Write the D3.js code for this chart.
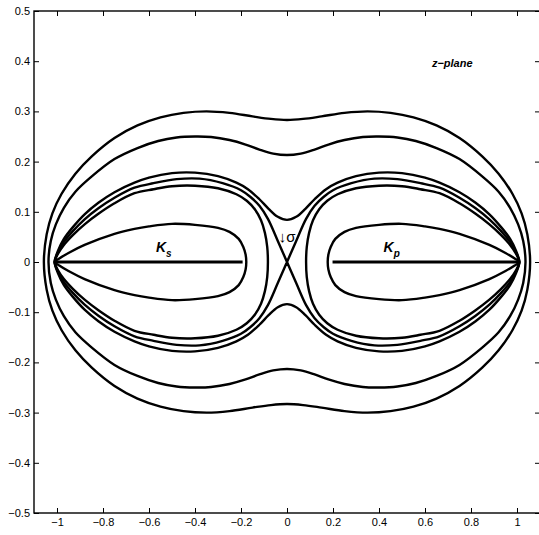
<!DOCTYPE html>
<html>
<head>
<meta charset="utf-8">
<script src="https://cdn.jsdelivr.net/npm/d3@7"></script>
<style>
  body { margin: 0; background: #fff; }
  text { font-family: "Liberation Sans", Arial, sans-serif; fill: #000; }
</style>
</head>
<body>
<svg id="zplane" width="539" height="535"></svg>
<script>
// ticks
var xTicks = [-1, -0.8, -0.6, -0.4, -0.2, 0, 0.2, 0.4, 0.6, 0.8, 1];
var xTickLabels = ["\u22121", "\u22120.8", "\u22120.6", "\u22120.4", "\u22120.2", "0", "0.2", "0.4", "0.6", "0.8", "1"];
var yTicks = [-0.5, -0.4, -0.3, -0.2, -0.1, 0, 0.1, 0.2, 0.3, 0.4, 0.5];
var yTickLabels = ["\u22120.5", "\u22120.4", "\u22120.3", "\u22120.2", "\u22120.1", "0", "0.1", "0.2", "0.3", "0.4", "0.5"];

// contours, first quadrant only, mirrored below
// outer contour
var outerX = [0, 0.07, 0.15, 0.25, 0.35, 0.45, 0.55, 0.65, 0.75, 0.85, 0.92, 0.98, 1.02, 1.045, 1.057];
var outerY = [0.283, 0.285, 0.29, 0.297, 0.3, 0.297, 0.288, 0.272, 0.247, 0.21, 0.176, 0.136, 0.097, 0.055, 0];
// second contour
var secondX = [0, 0.06, 0.12, 0.18, 0.25, 0.33, 0.4, 0.48, 0.56, 0.65, 0.75, 0.85, 0.92, 0.97, 1.005, 1.027, 1.037];
var secondY = [0.213, 0.216, 0.224, 0.234, 0.243, 0.249, 0.25, 0.248, 0.241, 0.227, 0.205, 0.17, 0.14, 0.108, 0.075, 0.042, 0];
// waist contour
var waistX = [0, 0.04, 0.08, 0.12, 0.17, 0.22, 0.3, 0.4, 0.5, 0.6, 0.663, 0.75, 0.82, 0.88, 0.93, 0.97, 0.995, 1.01];
var waistY = [0.084, 0.09, 0.106, 0.125, 0.145, 0.158, 0.171, 0.178, 0.177, 0.168, 0.158, 0.139, 0.118, 0.095, 0.07, 0.046, 0.023, 0];
// figure-eight through the origin
var eightX = [0, 0.04, 0.083, 0.12, 0.16, 0.2, 0.28, 0.38, 0.48, 0.58, 0.663, 0.75, 0.82, 0.88, 0.93, 0.97, 0.995, 1.01];
var eightY = [0, 0.042, 0.086, 0.112, 0.13, 0.143, 0.157, 0.166, 0.165, 0.157, 0.148, 0.128, 0.107, 0.085, 0.062, 0.04, 0.02, 0];
// lobe inside the eight
var lobeX = [0.083, 0.086, 0.096, 0.113, 0.14, 0.175, 0.22, 0.3, 0.4, 0.5, 0.58, 0.663, 0.75, 0.82, 0.88, 0.93, 0.97, 0.995, 1.01];
var lobeY = [0, 0.03, 0.058, 0.083, 0.105, 0.122, 0.135, 0.147, 0.152, 0.151, 0.145, 0.137, 0.117, 0.096, 0.075, 0.054, 0.034, 0.017, 0];
// innermost oval
var ovalX = [0.177, 0.18, 0.19, 0.21, 0.25, 0.3, 0.4, 0.5, 0.6, 0.663, 0.75, 0.88, 0.95, 0.99, 1.01];
var ovalY = [0, 0.015, 0.03, 0.046, 0.06, 0.068, 0.074, 0.076, 0.071, 0.066, 0.056, 0.034, 0.018, 0.007, 0];
// K_s and K_p segments on the real axis
var ksSegment = [-1.01, -0.193];
var kpSegment = [0.198, 1.01];

var svg = d3.select("#zplane");
svg.append("rect").attr("width", 539).attr("height", 535).attr("fill", "#fff");

var x = d3.scaleLinear().domain([-1.1, 1.1]).range([34, 540]);
var y = d3.scaleLinear().domain([-0.5, 0.5]).range([513, 11]);

function quad(xs, ys) { return xs.map(function(v, i) { return [v, ys[i]]; }); }

// closed contour crossing the imaginary axis above 0
function ringLoop(q) {
  var q4 = q.slice(0, -1).reverse().map(function(p) { return [p[0], -p[1]]; });
  var q3 = q.slice(1).map(function(p) { return [-p[0], -p[1]]; });
  var q2 = q.slice(1, -1).reverse().map(function(p) { return [-p[0], p[1]]; });
  return [q.concat(q4, q3, q2)];
}
// figure-eight: crossing at origin
function ringEight(q) {
  var q4 = q.slice(0, -1).reverse().map(function(p) { return [p[0], -p[1]]; });
  var q2 = q.slice(1).map(function(p) { return [-p[0], p[1]]; });
  var q3 = q.slice(1, -1).reverse().map(function(p) { return [-p[0], -p[1]]; });
  return [q.concat(q4, q2, q3)];
}
// two separate lobes
function ringLobe(q) {
  var right = q.concat(q.slice(1, -1).reverse().map(function(p) { return [p[0], -p[1]]; }));
  var left = right.map(function(p) { return [-p[0], p[1]]; });
  return [right, left];
}

var rings = []
  .concat(ringLoop(quad(outerX, outerY)))
  .concat(ringLoop(quad(secondX, secondY)))
  .concat(ringLoop(quad(waistX, waistY)))
  .concat(ringEight(quad(eightX, eightY)))
  .concat(ringLobe(quad(lobeX, lobeY)))
  .concat(ringLobe(quad(ovalX, ovalY)));

var contour = d3.line()
  .x(function(d) { return x(d[0]); })
  .y(function(d) { return y(d[1]); })
  .curve(d3.curveCatmullRomClosed.alpha(0.5));

svg.append("g")
  .selectAll("path")
  .data(rings)
  .enter()
  .append("path")
    .attr("d", contour)
    .attr("fill", "none")
    .attr("stroke", "#000")
    .attr("stroke-width", 2.4);

svg.append("g")
  .selectAll("line")
  .data([ksSegment, kpSegment])
  .enter()
  .append("line")
    .attr("x1", function(d) { return x(d[0]); })
    .attr("x2", function(d) { return x(d[1]); })
    .attr("y1", y(0))
    .attr("y2", y(0))
    .attr("stroke", "#000")
    .attr("stroke-width", 2.8);

// axes, matlab style box with inward ticks
function styleAxis(g) {
  g.select(".domain").remove();
  g.selectAll(".tick line").attr("stroke", "#000").attr("stroke-width", 1);
  g.selectAll("text").attr("font-size", 11).attr("font-family", "Liberation Sans, Arial, sans-serif");
}

svg.append("g")
  .attr("transform", "translate(0," + y(-0.5) + ")")
  .call(d3.axisBottom(x).tickValues(xTicks)
    .tickFormat(function(d, i) { return xTickLabels[i]; })
    .tickSizeInner(-5).tickSizeOuter(0).tickPadding(5))
  .call(styleAxis);

svg.append("g")
  .attr("transform", "translate(0," + y(0.5) + ")")
  .call(d3.axisTop(x).tickValues(xTicks).tickFormat("")
    .tickSizeInner(-5).tickSizeOuter(0))
  .call(styleAxis);

svg.append("g")
  .attr("transform", "translate(" + x(-1.1) + ",0)")
  .call(d3.axisLeft(y).tickValues(yTicks)
    .tickFormat(function(d, i) { return yTickLabels[i]; })
    .tickSizeInner(-5).tickSizeOuter(0).tickPadding(4))
  .call(styleAxis);

svg.append("g")
  .attr("transform", "translate(" + x(1.1) + ",0)")
  .call(d3.axisRight(y).tickValues(yTicks).tickFormat("")
    .tickSizeInner(-5).tickSizeOuter(0))
  .call(styleAxis);

svg.append("rect")
  .attr("x", x(-1.1)).attr("y", y(0.5))
  .attr("width", x(1.1) - x(-1.1)).attr("height", y(-0.5) - y(0.5))
  .attr("fill", "none").attr("stroke", "#000").attr("stroke-width", 1.4);

// annotations
svg.append("text")
  .attr("x", x(0.63)).attr("y", y(0.388))
  .attr("font-size", 11).attr("font-weight", "bold").attr("font-style", "italic")
  .text("z\u2212plane");

function kLabel(xv, sub) {
  var t = svg.append("text")
    .attr("x", x(xv)).attr("y", y(0.019))
    .attr("font-size", 14).attr("font-weight", "bold").attr("font-style", "italic");
  t.append("tspan").text("K");
  t.append("tspan").attr("font-size", 10).attr("dy", 5).text(sub);
}
kLabel(-0.57, "s");
kLabel(0.42, "p");

svg.append("text")
  .attr("x", x(-0.036)).attr("y", y(0.039))
  .attr("font-size", 15)
  .text("\u2193\u03c3");
</script>
</body>
</html>
